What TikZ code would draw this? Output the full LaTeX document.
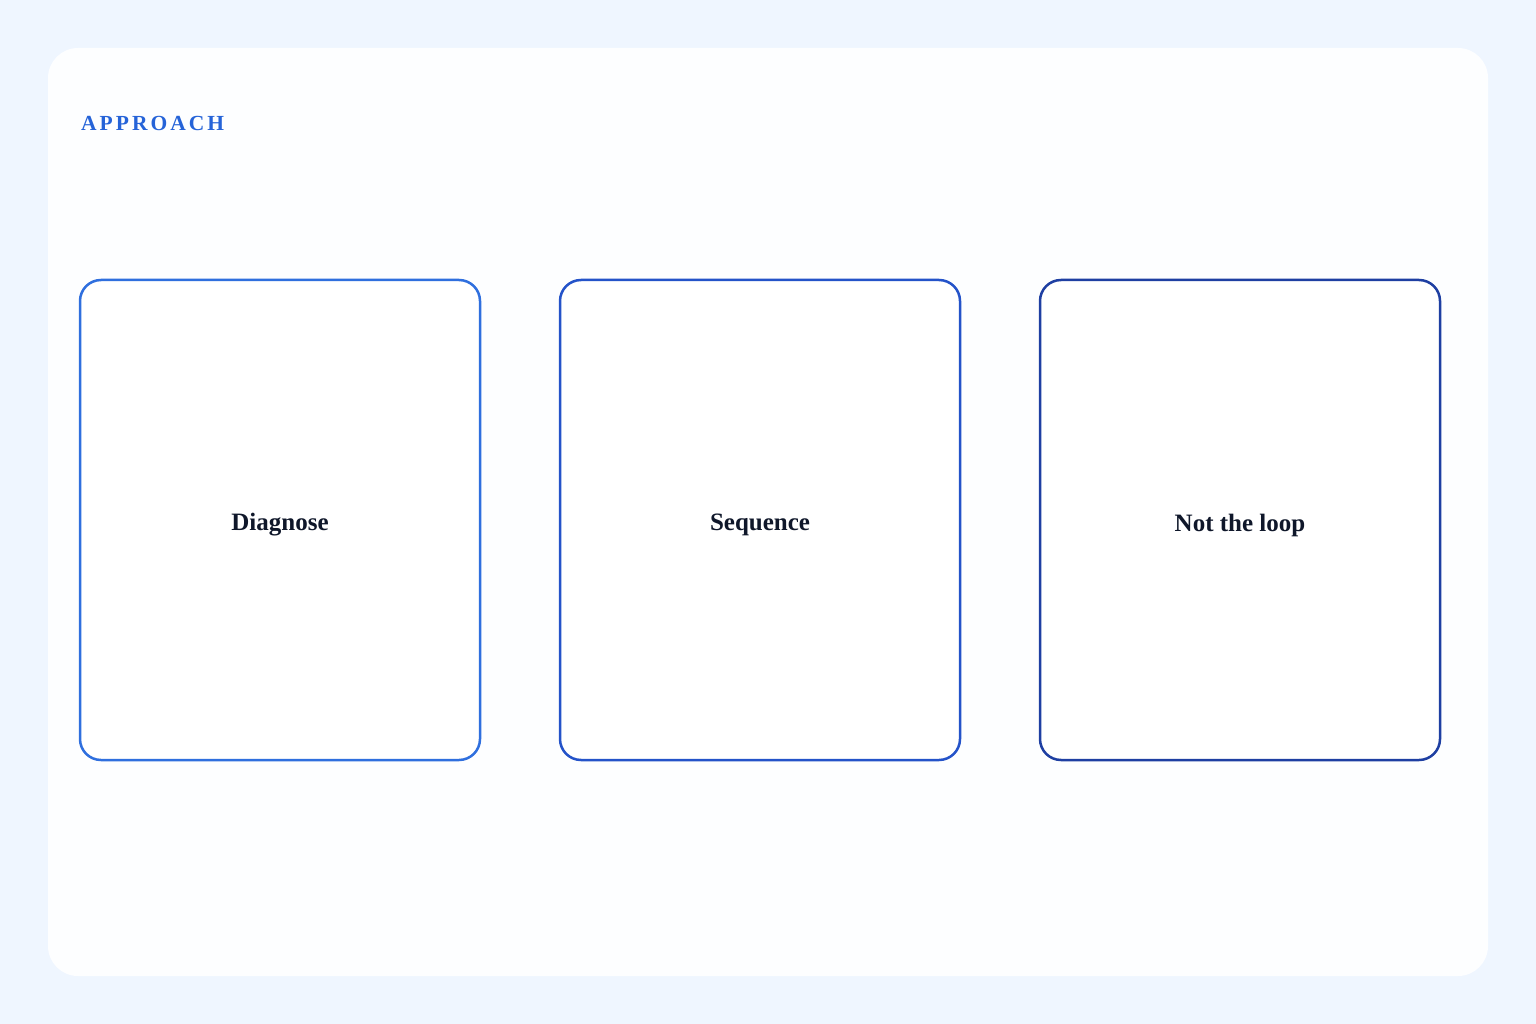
\documentclass[tikz,border=0pt]{standalone}
\usepackage{fontspec}
\setmainfont{Liberation Serif}
\definecolor{pagebg}{HTML}{EFF6FF}
\definecolor{cardbg}{HTML}{FDFEFF}
\definecolor{boxa}{HTML}{2F6FDE}
\definecolor{boxb}{HTML}{2453C9}
\definecolor{boxc}{HTML}{1E3FA2}
\definecolor{titleblue}{HTML}{2563D8}
\definecolor{ink}{HTML}{0F172A}
\tikzset{
  card/.style={fill=cardbg, draw=none, rounded corners=30pt},
  stepbox/.style={draw, line width=2.5pt, fill=white, rounded corners=21pt},
  label/.style={font=\bfseries\fontsize{25}{29}\selectfont, text=ink},
}
\begin{document}
\begin{tikzpicture}[x=1pt,y=-1pt]
\useasboundingbox (0,0) rectangle (1536,1024);
\fill[pagebg] (0,0) rectangle (1536,1024);
\path[card] (48,48) rectangle (1488,976);
\node[anchor=base west, inner sep=0pt, text=titleblue, font=\bfseries\fontsize{21.5}{26}\selectfont\addfontfeatures{LetterSpace=14}] (title) at (81,131) {APPROACH};
\draw[stepbox, draw=boxa] (80,280) rectangle (480,760);
\draw[stepbox, draw=boxb] (560,280) rectangle (960,760);
\draw[stepbox, draw=boxc] (1040,280) rectangle (1440,760);
\node[label] (a) at (280,525) {Diagnose};
\node[label] (b) at (760,525) {Sequence};
\node[label] (c) at (1240,525) {Not the loop};
\end{tikzpicture}
\end{document}
